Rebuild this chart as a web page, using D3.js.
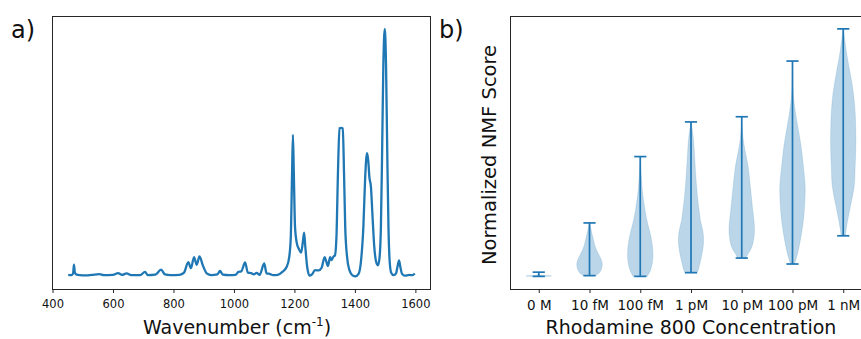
<!DOCTYPE html>
<html>
<head>
<meta charset="utf-8">
<script src="https://cdn.jsdelivr.net/npm/d3@7"></script>
<style>
  html, body { margin: 0; padding: 0; background: #fff; }
  svg { display: block; font-family: "DejaVu Sans", sans-serif; }
</style>
</head>
<body>
<div id="chart"></div>
<script>
// ---- panel a) Raman spectrum, [wavenumber, normalised intensity]
var spectrum = [
  [452, 0.006], [462, 0.005], [468, 0.012], [471, 0.047], [474, 0.015], [478, 0.008],
  [490, 0.005], [510, 0.004], [530, 0.006], [555, 0.009], [570, 0.005], [600, 0.006],
  [617, 0.013], [630, 0.006], [645, 0.012], [660, 0.005], [690, 0.005], [706, 0.018],
  [715, 0.005], [740, 0.007], [759, 0.027], [772, 0.008], [790, 0.005], [820, 0.006],
  [835, 0.015], [849, 0.058], [858, 0.033], [868, 0.078], [877, 0.047], [886, 0.081],
  [897, 0.045], [910, 0.012], [925, 0.005], [945, 0.008], [954, 0.022], [963, 0.007],
  [985, 0.005], [1005, 0.006], [1015, 0.018], [1024, 0.020], [1037, 0.056], [1046, 0.015],
  [1057, 0.013], [1066, 0.008], [1075, 0.014], [1085, 0.006], [1100, 0.052], [1108, 0.012],
  [1118, 0.010], [1130, 0.005], [1145, 0.006], [1160, 0.018], [1175, 0.040], [1183, 0.080],
  [1188, 0.160], [1192, 0.400], [1195, 0.572], [1198, 0.420], [1202, 0.200], [1208, 0.134],
  [1215, 0.110], [1222, 0.096], [1228, 0.140], [1232, 0.177], [1236, 0.120], [1242, 0.040],
  [1250, 0.003], [1258, 0.008], [1268, 0.025], [1280, 0.024], [1290, 0.035], [1300, 0.078],
  [1305, 0.062], [1311, 0.042], [1318, 0.078], [1323, 0.066], [1329, 0.080], [1334, 0.085],
  [1339, 0.160], [1344, 0.420], [1349, 0.598], [1355, 0.600], [1360, 0.598], [1364, 0.420],
  [1368, 0.200], [1374, 0.080], [1382, 0.025], [1392, 0.004], [1402, 0.000], [1412, 0.010],
  [1420, 0.060], [1428, 0.200], [1434, 0.400], [1440, 0.498], [1444, 0.470], [1448, 0.400],
  [1453, 0.363], [1458, 0.250], [1464, 0.120], [1470, 0.060], [1476, 0.045], [1481, 0.070],
  [1486, 0.200], [1490, 0.500], [1494, 0.850], [1499, 1.000], [1503, 0.850], [1507, 0.500],
  [1511, 0.200], [1515, 0.060], [1520, 0.015], [1528, 0.005], [1536, 0.012], [1541, 0.040],
  [1546, 0.065], [1550, 0.040], [1556, 0.010], [1565, 0.003], [1580, 0.006], [1590, 0.005],
  [1598, 0.012]
];
var wavenumberTicks = [400, 600, 800, 1000, 1200, 1400, 1600];

// ---- panel b) violins: categories, min/max whiskers, density profiles [score, rel. width]
var concentrations = ['0 M', '10 fM', '100 fM', '1 pM', '10 pM', '100 pM', '1 nM'];
var scoreMin = [0.000, 0.003, 0.000, 0.015, 0.074, 0.050, 0.164];
var scoreMax = [0.017, 0.216, 0.484, 0.624, 0.645, 0.870, 1.000];
var profile0M = [[0, 0.1], [0.001, 0.9], [0.002, 1], [0.003, 0.8], [0.005, 0.2], [0.008, 0.05], [0.017, 0]];
var profile10fM = [[0.003, 0.48], [0.016, 0.8], [0.032, 0.96], [0.053, 1], [0.073, 0.88], [0.097, 0.64],
  [0.122, 0.44], [0.146, 0.32], [0.171, 0.2], [0.195, 0.1], [0.216, 0.02]];
var profile100fM = [[0, 0.56], [0.024, 0.8], [0.057, 0.96], [0.097, 1], [0.138, 0.92], [0.179, 0.76],
  [0.219, 0.56], [0.26, 0.4], [0.309, 0.26], [0.349, 0.16], [0.39, 0.1], [0.438, 0.04], [0.484, 0]];
var profile1pM = [[0.015, 0.48], [0.024, 0.56], [0.065, 0.76], [0.106, 0.92], [0.146, 1], [0.187, 0.92],
  [0.227, 0.74], [0.268, 0.64], [0.309, 0.54], [0.39, 0.4], [0.471, 0.3], [0.552, 0.2], [0.601, 0.08], [0.624, 0.02]];
var profile10pM = [[0.074, 0.32], [0.093, 0.52], [0.119, 0.8], [0.16, 0.97], [0.2, 1], [0.281, 0.84],
  [0.363, 0.68], [0.444, 0.5], [0.498, 0.3], [0.552, 0.12], [0.601, 0.04], [0.645, 0]];
var profile100pM = [[0.05, 0.16], [0.092, 0.4], [0.146, 0.62], [0.227, 0.86], [0.309, 0.98], [0.363, 1],
  [0.444, 0.86], [0.525, 0.68], [0.606, 0.42], [0.661, 0.24], [0.728, 0.08], [0.796, 0.03], [0.87, 0]];
var profile1nM = [[0.164, 0.16], [0.2, 0.26], [0.281, 0.56], [0.363, 0.86], [0.444, 0.94], [0.498, 0.98],
  [0.552, 1], [0.606, 0.98], [0.661, 0.94], [0.742, 0.8], [0.823, 0.54], [0.904, 0.26], [0.972, 0.08], [1.0, 0]];
var profiles = [profile0M, profile10fM, profile100fM, profile1pM, profile10pM, profile100pM, profile1nM];

var BLUE = '#1f77b4';
var FRAME = '#262626';

var svg = d3.select('#chart').append('svg').attr('width', 861).attr('height', 339);

function frame(g, x0, x1, y0, y1) {
  g.append('rect').attr('x', x0).attr('y', y0).attr('width', x1 - x0).attr('height', y1 - y0)
    .attr('fill', 'none').attr('stroke', FRAME).attr('stroke-width', 1);
}

// ======================= panel a) =======================
var ax = { left: 52.5, right: 430.5, top: 16.5, bottom: 289.5 };
var xA = d3.scaleLinear().domain([400, 1650]).range([ax.left, ax.right]);
var yA = d3.scaleLinear().domain([-0.053, 1.05]).range([ax.bottom, ax.top]);
var gA = svg.append('g');

gA.append('path').datum(spectrum)
  .attr('fill', 'none').attr('stroke', BLUE).attr('stroke-width', 2.3).attr('stroke-linejoin', 'round')
  .attr('d', d3.line().x(function(d) { return xA(d[0]); }).y(function(d) { return yA(d[1]); }).curve(d3.curveMonotoneX));

frame(gA, ax.left, ax.right, ax.top, ax.bottom);

var axisA = gA.append('g').attr('transform', 'translate(0,' + ax.bottom + ')')
  .call(d3.axisBottom(xA).tickValues(wavenumberTicks).tickSize(3.5).tickPadding(7).tickFormat(d3.format('d')));
axisA.select('.domain').remove();
axisA.selectAll('line').attr('stroke', FRAME);
axisA.selectAll('text').attr('fill', '#111').attr('font-size', '11.5px').attr('font-family', 'DejaVu Sans');

var labA = gA.append('text').attr('x', 237).attr('y', 334)
  .attr('text-anchor', 'middle').attr('font-size', '19px').attr('fill', '#111');
labA.append('tspan').text('Wavenumber (cm');
labA.append('tspan').attr('font-size', '12px').attr('dy', -8).text('-1');
labA.append('tspan').attr('dy', 8).text(')');

svg.append('text').attr('x', 11).attr('y', 37.5).attr('font-size', '24px').attr('fill', '#111').text('a)');

// ======================= panel b) =======================
var bx = { left: 510.5, right: 871.5, top: 16.5, bottom: 289.5 };
var positions = concentrations.map(function(c, i) { return i + 1; });
var xB = d3.scaleLinear().domain([0.443, 7.557]).range([bx.left, bx.right]);
var yB = d3.scaleLinear().domain([-0.053, 1.05]).range([bx.bottom, bx.top]);
var halfWidth = 0.25; // matplotlib violin widths=0.5
var capHalf = 0.12;
var gB = svg.append('g');

profiles.forEach(function(prof, i) {
  var p = positions[i];
  gB.append('path').datum(prof)
    .attr('fill', BLUE).attr('fill-opacity', 0.3).attr('stroke', BLUE).attr('stroke-opacity', 0.3).attr('stroke-width', 0.5)
    .attr('d', d3.area()
      .y(function(d) { return yB(d[0]); })
      .x0(function(d) { return xB(p - d[1] * halfWidth); })
      .x1(function(d) { return xB(p + d[1] * halfWidth); })
      .curve(d3.curveCatmullRom));
  // central bar and extreme caps
  gB.append('line').attr('x1', xB(p)).attr('x2', xB(p)).attr('y1', yB(scoreMin[i])).attr('y2', yB(scoreMax[i]))
    .attr('stroke', BLUE).attr('stroke-width', 1.7);
  [scoreMin[i], scoreMax[i]].forEach(function(v) {
    gB.append('line').attr('x1', xB(p - capHalf)).attr('x2', xB(p + capHalf)).attr('y1', yB(v)).attr('y2', yB(v))
      .attr('stroke', BLUE).attr('stroke-width', 1.7);
  });
});

frame(gB, bx.left, bx.right, bx.top, bx.bottom);

var axisB = gB.append('g').attr('transform', 'translate(0,' + bx.bottom + ')')
  .call(d3.axisBottom(xB).tickValues(positions).tickSize(3.5).tickPadding(7)
    .tickFormat(function(d) { return concentrations[d - 1]; }));
axisB.select('.domain').remove();
axisB.selectAll('line').attr('stroke', FRAME);
axisB.selectAll('text').attr('fill', '#111').attr('font-size', '13.5px').attr('font-family', 'DejaVu Sans');

gB.append('text').attr('x', (bx.left + bx.right) / 2).attr('y', 334)
  .attr('text-anchor', 'middle').attr('font-size', '19px').attr('fill', '#111')
  .text('Rhodamine 800 Concentration');

gB.append('text').attr('transform', 'translate(496,155) rotate(-90)')
  .attr('text-anchor', 'middle').attr('font-size', '19.5px').attr('fill', '#111')
  .text('Normalized NMF Score');

svg.append('text').attr('x', 439).attr('y', 37.5).attr('font-size', '24px').attr('fill', '#111').text('b)');
</script>
</body>
</html>
